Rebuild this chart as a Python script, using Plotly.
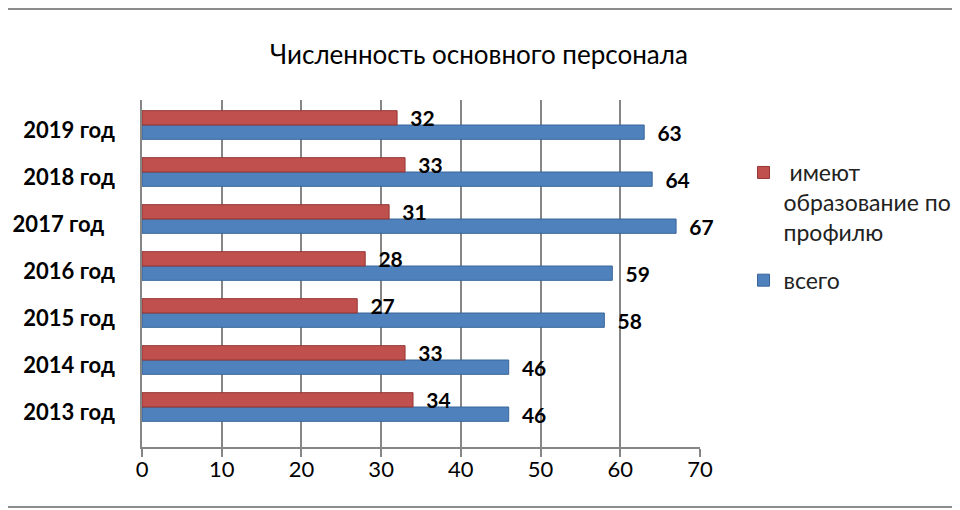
import plotly.graph_objects as go

years = ['2013 год', '2014 год', '2015 год', '2016 год', '2017 год\u00a0\u00a0', '2018 год', '2019 год']
total = [46, 46, 58, 59, 67, 64, 63]
profile = [34, 33, 27, 28, 31, 33, 32]

blue = '#4F81BD'
red = '#C0504D'
grey = '#868686'
label_font = dict(family='Lato', size=21, color='black', weight='bold')

fig = go.Figure()
fig.add_trace(go.Bar(
    y=years, x=total, orientation='h', name='всего', legendgroup='b', legendrank=2,
    marker=dict(color=blue, line=dict(color='#3A6599', width=1)),
    text=total, texttemplate='\u00a0\u00a0%{x}', textposition='outside',
    textfont=label_font, cliponaxis=False,
))
fig.add_trace(go.Bar(
    y=years, x=profile, orientation='h', name='\u00a0имеют<br>образование по<br>профилю',
    legendgroup='r', legendrank=1,
    marker=dict(color=red, line=dict(color='#943634', width=1)),
    text=profile, texttemplate='\u00a0\u00a0%{x}', textposition='outside',
    textfont=label_font, cliponaxis=False,
))

fig.update_layout(
    width=960, height=510,
    paper_bgcolor='white', plot_bgcolor='white',
    margin=dict(l=134, r=262, t=92, b=71),
    barmode='group', bargap=0.39,
    uniformtext=dict(minsize=21, mode='show'),
    title=dict(text='Численность основного персонала', x=0.4906, xref='container',
               xanchor='center', y=0.908, yref='container', yanchor='middle',
               font=dict(family='Lato', size=26, color='black')),
    xaxis=dict(range=[0, 70], dtick=10, showgrid=True, gridcolor=grey, gridwidth=1.5,
               zeroline=False, showline=True, linecolor=grey, linewidth=1.5,
               ticks='outside', ticklen=8, tickcolor=grey, tickwidth=1.5,
               ticklabelstandoff=-6, automargin=False,
               tickfont=dict(family='Lato', size=22, color='black')),
    yaxis=dict(type='category', range=[-0.851, 6.532], showgrid=False, zeroline=False,
               showline=True, linecolor=grey, linewidth=1.5,
               ticks='', ticklabelstandoff=21, ticklabelshift=5, automargin=False,
               tickfont=dict(family='Lato', size=22, color='black', weight='bold')),
    legend=dict(x=1.078, y=0.853, xanchor='left', yanchor='top', traceorder='grouped',
                valign='top', tracegroupgap=15, itemwidth=30,
                font=dict(family='Lato', size=23, color='#222222')),
    shapes=[
        dict(type='line', xref='paper', yref='paper', x0=-0.3, x1=1.5, y0=1.262, y1=1.262,
             line=dict(color='#8C8C8C', width=2)),
        dict(type='line', xref='paper', yref='paper', x0=-0.3, x1=1.5, y0=-0.173, y1=-0.173,
             line=dict(color='#8C8C8C', width=2)),
    ],
)

fig.write_html('out.html')
